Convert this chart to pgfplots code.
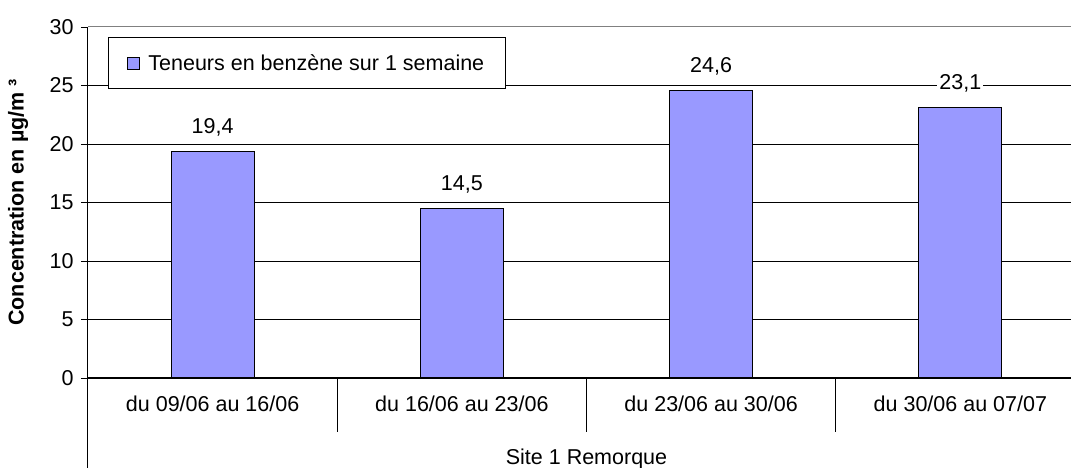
\documentclass[border=0pt]{standalone}
\usepackage{fontspec}
\setmainfont{Liberation Sans}
\usepackage{pgfplots}
\pgfplotsset{compat=1.18}
\definecolor{barblue}{HTML}{9999FF}
\newcommand{\fs}{\fontsize{21.5}{26}\selectfont}
\pgfplotsset{sqlegend/.style={legend image code/.code={\draw[##1] (0pt,-6pt) rectangle (12pt,6pt);}}}
\begin{document}
\begin{tikzpicture}[x=1pt,y=1pt]
\useasboundingbox (0,0) rectangle (1071,468);
\clip (0,0) rectangle (1071,468);
\begin{axis}[
  at={(88pt,90pt)}, anchor=south west,
  width=997pt, height=351pt, scale only axis,
  xmin=-0.5, xmax=3.5, ymin=0, ymax=30,
  ybar, bar width=83pt,
  xtick={0,1,2,3},
  xticklabels={du 09/06 au 16/06, du 16/06 au 23/06, du 23/06 au 30/06, du 30/06 au 07/07},
  x tick style={draw=none},
  ytick={0,5,...,25}, extra y ticks={30},
  ymajorgrids, major grid style={black, line width=0.8pt},
  extra y tick style={major grid style={gray, line width=1pt}},
  axis x line*=bottom, axis y line*=left,
  axis line style={black, line width=1pt},
  tick align=outside, major tick length=7pt,
  y tick style={black, line width=0.8pt},
  /pgf/number format/assume math mode=true,
  ticklabel style={font=\fs},
  yticklabel style={xshift=-4pt},
  xticklabel style={anchor=base, yshift=-27pt},
  nodes near coords,
  nodes near coords style={font=\fs, fill=white, inner sep=2pt, anchor=base, yshift=18pt,
     /pgf/number format/.cd, use comma, fixed, fixed zerofill, precision=1, assume math mode=true},
  ylabel={\bfseries Concentration en µg/m ³},
  every axis y label/.style={at={(axis description cs:-0.0702,0.5)}, rotate=90, anchor=center, font=\fs},
  legend style={at={(0.02006,0.9715)}, anchor=north west, draw=black, line width=0.8pt, font=\fs,
     inner xsep=19pt, inner ysep=15pt, /tikz/every odd column/.append style={column sep=6pt}},
  clip=false,
]
\addplot[fill=barblue, draw=black, line width=1pt, sqlegend]
  coordinates {(0,19.4) (1,14.5) (2,24.6) (3,23.1)};
\addlegendentry{Teneurs en benzène sur 1 semaine}
\draw[black, line width=0.8pt] (axis cs:0.5,0) -- ++(0pt,-54pt);
\draw[black, line width=0.8pt] (axis cs:1.5,0) -- ++(0pt,-54pt);
\draw[black, line width=0.8pt] (axis cs:2.5,0) -- ++(0pt,-54pt);
\draw[black, line width=1pt] (axis cs:-0.5,0) -- ++(0pt,-90pt);
\node[font=\fs, anchor=base] at ([yshift=-87pt]axis cs:1.5,0) {Site 1 Remorque};
\end{axis}
\end{tikzpicture}
\end{document}
